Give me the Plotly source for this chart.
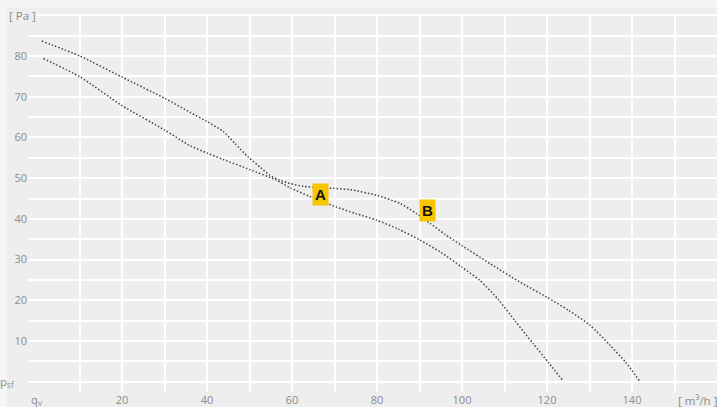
import plotly.graph_objects as go

# ---- data ----
upper_q = [1.1, 10.1, 19.9, 30.1, 36.0, 40.0, 43.8, 46.5, 49.7, 52.5, 54.8, 57.0, 59.5, 62.7,
           66.0, 69.7, 73.6, 79.9, 85.4, 89.3, 92.5, 96.0, 99.9, 106.6, 113.6, 119.9, 125.0,
           130.1, 134.8, 138.5, 141.9]
upper_p = [83.7, 80.0, 74.9, 69.6, 66.2, 63.9, 61.5, 58.6, 55.2, 52.7, 50.7, 49.6, 48.7, 48.0,
           47.7, 47.5, 47.2, 45.8, 43.8, 41.3, 38.9, 36.2, 33.5, 29.0, 24.5, 20.8, 17.6,
           13.9, 9.0, 4.8, 0.0]
lower_q = [1.5, 10.1, 19.9, 30.1, 36.0, 40.0, 43.8, 50.1, 56.4, 59.5, 64.2, 70.5, 75.0, 79.9,
           85.0, 90.1, 95.0, 99.9, 104.2, 108.7, 112.5, 116.8, 120.5, 123.8]
lower_p = [79.4, 74.9, 67.9, 61.8, 58.0, 56.2, 54.6, 52.1, 49.5, 47.7, 45.5, 42.9, 41.3, 39.7,
           37.5, 34.8, 31.8, 28.2, 24.9, 20.0, 14.9, 9.3, 4.5, 0.2]

point_labels = ["A", "B"]
point_q = [66.7, 91.8]
point_p = [46.0, 42.1]

x_tickvals = [20, 40, 60, 80, 100, 120, 140]
x_ticktext = ["20", "40", "60", "80", "100", "120", "140"]
y_tickvals = [10, 20, 30, 40, 50, 60, 70, 80]
y_ticktext = ["10", "20", "30", "40", "50", "60", "70", "80"]
x_grid = [10, 20, 30, 40, 50, 60, 70, 80, 90, 100, 110, 120, 130, 140, 150]
y_grid = [0, 5, 10, 15, 20, 25, 30, 35, 40, 45, 50, 55, 60, 65, 70, 75, 80, 85, 90]

x_name, x_unit = "q<sub>V</sub>", "[ m³/h ]"
y_name, y_unit = "p<sub>sf</sub>", "[ Pa ]"

W, H = 717, 407
L, R, T, B = 28, 0, 14, 15
PW, PH = W - L - R, H - T - B

def px_to_paper_x(px):
    return (px - L) / PW

def px_to_paper_y(py):
    return (H - B - py) / PH

font_family = "Open Sans, Noto Sans, sans-serif"
tick_color = "#8c8c8c"
line_style = dict(color="#444444", width=1.5, dash="1.5px,2px", shape="spline", smoothing=0.6)

fig = go.Figure()
fig.add_trace(go.Scatter(x=upper_q, y=upper_p, mode="lines", line=line_style,
                         hoverinfo="skip", showlegend=False))
fig.add_trace(go.Scatter(x=lower_q, y=lower_p, mode="lines", line=line_style,
                         hoverinfo="skip", showlegend=False))

annotations = []
for lab, q, p in zip(point_labels, point_q, point_p):
    annotations.append(dict(x=q, y=p, xref="x", yref="y", text="<b>%s</b>" % lab,
                            showarrow=False, bgcolor="#f7c600", borderpad=2,
                            font=dict(family="Liberation Sans, Arial, sans-serif",
                                      size=15, color="#111111")))

# axis names / units
annotations.append(dict(x=0, y=px_to_paper_y(400), xref="x", yref="paper", text=x_name,
                        showarrow=False, xanchor="center", yanchor="middle",
                        font=dict(family=font_family, size=11, color=tick_color)))
annotations.append(dict(x=px_to_paper_x(697), y=px_to_paper_y(400), xref="paper", yref="paper",
                        text=x_unit, showarrow=False, xanchor="center", yanchor="middle",
                        font=dict(family=font_family, size=11.5, color=tick_color)))
annotations.append(dict(x=px_to_paper_x(22), y=90, xref="paper", yref="y", text=y_unit,
                        showarrow=False, xanchor="center", yanchor="middle",
                        bgcolor="#eeeeee", borderpad=0,
                        font=dict(family=font_family, size=11.5, color=tick_color)))
annotations.append(dict(x=px_to_paper_x(17), y=0, xref="paper", yref="y", text=y_name,
                        showarrow=False, xanchor="right", yanchor="middle",
                        font=dict(family=font_family, size=11.5, color=tick_color)))

shapes = [dict(type="rect", xref="paper", yref="paper", layer="below",
               x0=px_to_paper_x(7), x1=px_to_paper_x(W + 5),
               y0=px_to_paper_y(H + 5), y1=px_to_paper_y(8),
               fillcolor="#eeeeee", line=dict(width=0))]

fig.update_layout(
    width=W, height=H,
    margin=dict(l=L, r=R, t=T, b=B, pad=0),
    paper_bgcolor="#f5f5f5",
    plot_bgcolor="rgba(0,0,0,0)",
    font=dict(family=font_family, size=11, color=tick_color),
    annotations=annotations,
    shapes=shapes,
    xaxis=dict(range=[-2.12, 160.0], tickmode="array", tickvals=x_tickvals, ticktext=x_ticktext,
               showgrid=False, zeroline=False, showline=False, ticks="",
               tickfont=dict(size=11, color=tick_color),
               minor=dict(tickmode="array", tickvals=x_grid, showgrid=True,
                          gridcolor="#ffffff", gridwidth=1.6, ticks="")),
    yaxis=dict(range=[-2.53, 90.34], tickmode="array", tickvals=y_tickvals, ticktext=y_ticktext,
               showgrid=False, zeroline=False, showline=False, ticks="",
               tickfont=dict(size=11, color=tick_color),
               minor=dict(tickmode="array", tickvals=y_grid, showgrid=True,
                          gridcolor="#ffffff", gridwidth=1.6, ticks="")),
)

fig.write_html(
    "out.html",
    config={"displayModeBar": False},
    post_script="document.body.style.margin='0';document.body.style.background='#f5f5f5';",
)
